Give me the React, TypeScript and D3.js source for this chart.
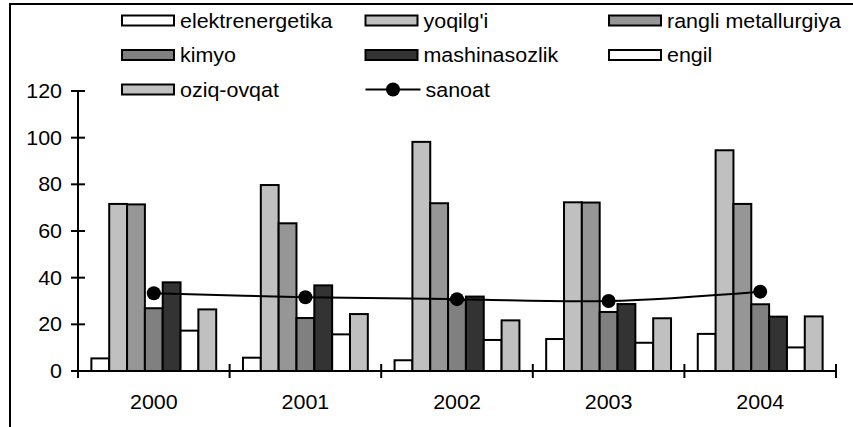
import React from "react";
import * as d3 from "d3";

const years = ["2000", "2001", "2002", "2003", "2004"];
const seriesNames = ["elektrenergetika", "yoqilg'i", "rangli metallurgiya", "kimyo", "mashinasozlik", "engil", "oziq-ovqat"];
const elektrenergetika = [5.4, 5.7, 4.6, 13.7, 15.9];
const yoqilgi = [71.6, 79.7, 98.2, 72.3, 94.6];
const rangliMetallurgiya = [71.4, 63.3, 71.9, 72.2, 71.6];
const kimyo = [26.9, 22.7, 30.5, 25.3, 28.6];
const mashinasozlik = [38.0, 36.7, 31.9, 28.7, 23.3];
const engil = [17.3, 15.7, 13.3, 12.1, 10.1];
const oziqOvqat = [26.4, 24.4, 21.7, 22.6, 23.4];
const sanoat = [33.3, 31.6, 30.8, 30.0, 34.0];
const yTicks = [0, 20, 40, 60, 80, 100, 120];
const fills = ["#ffffff", "#c0c0c0", "#969696", "#808080", "#333333", "#ffffff", "#c0c0c0"];

const seriesValues = [elektrenergetika, yoqilgi, rangliMetallurgiya, kimyo, mashinasozlik, engil, oziqOvqat];

const FONT = "'Liberation Sans', Arial, sans-serif";
const FS = 19.5;
const SX = 1.1;

export default function App() {
  const x0 = 78, x1 = 836, yTop = 91, yBot = 371;
  const x = d3.scaleBand<string>().domain(years).range([x0, x1]).padding(0);
  const xs = d3.scaleBand<string>().domain(seriesNames).range([0, x.bandwidth()]).paddingInner(0).paddingOuter(0.75);
  const y = d3.scaleLinear().domain([0, 120]).range([yBot, yTop]);

  const line = d3.line<number>()
    .x((_, i) => (x(years[i]) as number) + x.bandwidth() / 2)
    .y((d) => y(d))
    .curve(d3.curveCatmullRom.alpha(0.5));

  const legendItems = [
    { name: "elektrenergetika", type: "bar", fill: fills[0] },
    { name: "yoqilg'i", type: "bar", fill: fills[1] },
    { name: "rangli metallurgiya", type: "bar", fill: fills[2] },
    { name: "kimyo", type: "bar", fill: fills[3] },
    { name: "mashinasozlik", type: "bar", fill: fills[4] },
    { name: "engil", type: "bar", fill: fills[5] },
    { name: "oziq-ovqat", type: "bar", fill: fills[6] },
    { name: "sanoat", type: "line", fill: "#000" },
  ];
  const colX = [122, 365.5, 609];
  const rowY = [20.5, 55, 89.5];

  const txt = (s: string, tx: number, ty: number, anchor: string = "start", key?: string) => (
    <text key={key} transform={`translate(${tx},${ty}) scale(${SX},1)`} textAnchor={anchor}
      dominantBaseline="central" fontFamily={FONT} fontSize={FS} fill="#000">{s}</text>
  );

  return (
    <svg width={853} height={427} style={{ position: "absolute", left: 0, top: 0, background: "#fff" }}>
      <rect x={10} y={4} width={1000} height={600} fill="#fff" stroke="#000" strokeWidth={2} />
      {/* legend */}
      {legendItems.map((it, i) => {
        const cx = colX[i % 3];
        const cy = rowY[Math.floor(i / 3)];
        return (
          <g key={it.name}>
            {it.type === "bar" ? (
              <rect x={cx} y={cy - 5} width={52} height={10} fill={it.fill} stroke="#000" strokeWidth={2} />
            ) : (
              <g>
                <line x1={cx} x2={cx + 55} y1={cy} y2={cy} stroke="#000" strokeWidth={2} />
                <circle cx={cx + 27.5} cy={cy} r={7} fill="#000" />
              </g>
            )}
            {txt(it.name, cx + (it.type === "bar" ? 58 : 60), cy)}
          </g>
        );
      })}
      {/* bars */}
      {seriesNames.map((s, si) => (
        <g key={s}>
          {years.map((yr, yi) => {
            const bx = (x(yr) as number) + (xs(s) as number);
            const v = seriesValues[si][yi];
            return (
              <rect key={yr} x={bx} y={y(v)} width={xs.bandwidth()} height={yBot - y(v)}
                fill={fills[si]} stroke="#000" strokeWidth={2} />
            );
          })}
        </g>
      ))}
      {/* axes */}
      <line x1={x0} x2={x0} y1={yTop} y2={yBot} stroke="#000" strokeWidth={2} />
      <line x1={x0} x2={x1} y1={yBot} y2={yBot} stroke="#000" strokeWidth={2} />
      {yTicks.map((t) => (
        <g key={t}>
          <line x1={x0 - 7} x2={x0 + 7} y1={y(t)} y2={y(t)} stroke="#000" strokeWidth={2} />
          {txt(String(t), 62, y(t), "end", "yl" + t)}
        </g>
      ))}
      {[...years.map((yr) => x(yr) as number), x1].map((tx, i) => (
        <line key={i} x1={tx} x2={tx} y1={yBot - 7} y2={yBot + 7} stroke="#000" strokeWidth={2} />
      ))}
      {years.map((yr) => txt(yr, (x(yr) as number) + x.bandwidth() / 2, 402, "middle", "xl" + yr))}
      {/* sanoat line */}
      <path d={line(sanoat) || ""} fill="none" stroke="#000" strokeWidth={2} />
      {sanoat.map((v, i) => (
        <circle key={i} cx={(x(years[i]) as number) + x.bandwidth() / 2} cy={y(v)} r={7} fill="#000" />
      ))}
    </svg>
  );
}
